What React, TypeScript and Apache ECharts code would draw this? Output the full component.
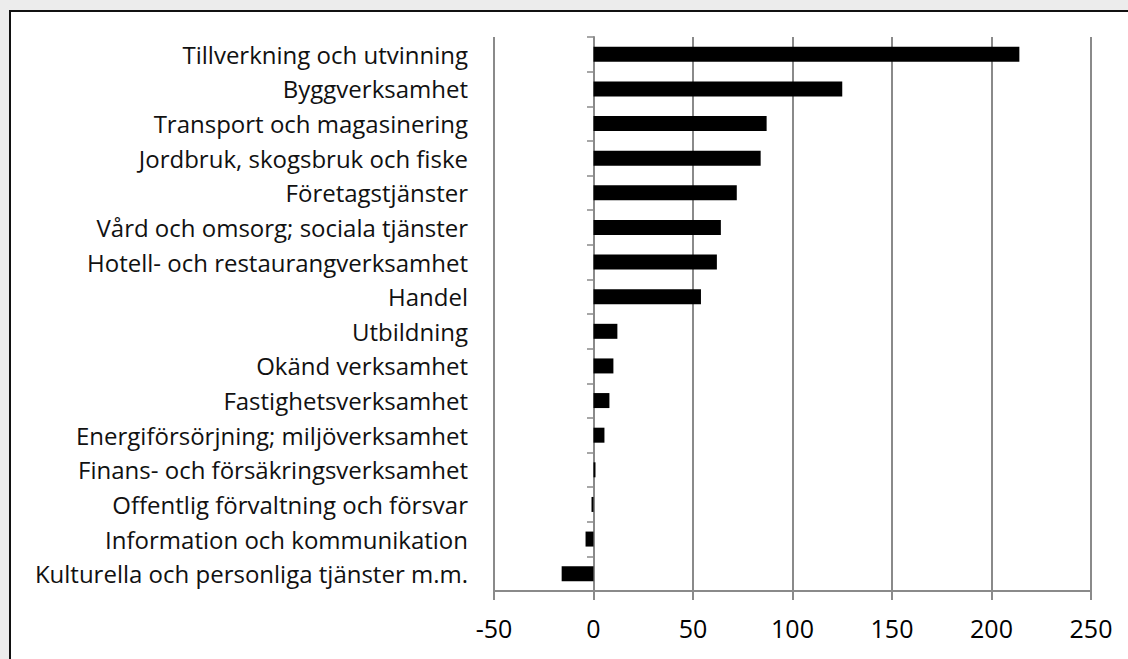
import React, { useEffect, useRef } from "react";
import * as echarts from "echarts";

const categories = [
  "Tillverkning och utvinning",
  "Byggverksamhet",
  "Transport och magasinering",
  "Jordbruk, skogsbruk och fiske",
  "Företagstjänster",
  "Vård och omsorg; sociala tjänster",
  "Hotell- och restaurangverksamhet",
  "Handel",
  "Utbildning",
  "Okänd verksamhet",
  "Fastighetsverksamhet",
  "Energiförsörjning; miljöverksamhet",
  "Finans- och försäkringsverksamhet",
  "Offentlig förvaltning och försvar",
  "Information och kommunikation",
  "Kulturella och personliga tjänster m.m.",
];

const values = [214, 125, 87, 84, 72, 64, 62, 54, 12, 10, 8, 5.5, 1, -1, -4, -16];

const xMin = -50;
const xMax = 250;
const xStep = 50;

const FONT = "'Open Sans', sans-serif";

export default function App() {
  const ref = useRef<HTMLDivElement>(null);
  useEffect(() => {
    document.body.style.margin = "0";
    const chart = echarts.init(ref.current!, null, { renderer: "svg" });
    chart.setOption({
      animation: false,
      grid: { left: 494, right: 37, top: 37, bottom: 68, containLabel: false },
      xAxis: {
        type: "value",
        min: xMin,
        max: xMax,
        interval: xStep,
        axisLine: { show: true, onZero: false, lineStyle: { color: "#8a8a8a", width: 2 } },
        axisTick: { show: true, length: 9, lineStyle: { color: "#8a8a8a", width: 2 } },
        splitLine: { show: true, lineStyle: { color: "#8a8a8a", width: 2 } },
        axisLabel: { color: "#000", fontSize: 25, fontFamily: FONT, margin: 24 },
      },
      yAxis: [
        {
          type: "category",
          data: categories,
          inverse: true,
          axisLine: { show: false },
          axisTick: { show: false },
          splitLine: { show: false },
          axisLabel: { color: "#111", fontSize: 24, fontFamily: FONT, margin: 26 },
        },
        {
          type: "category",
          data: categories,
          inverse: true,
          position: "left",
          offset: -100,
          axisLine: { show: true, onZero: false, lineStyle: { color: "#8a8a8a", width: 2 } },
          axisTick: { show: true, length: 7, lineStyle: { color: "#8a8a8a", width: 1.5 } },
          axisLabel: { show: false },
          splitLine: { show: false },
        },
      ],
      series: [
        {
          type: "bar",
          data: values,
          yAxisIndex: 0,
          barWidth: 15,
          itemStyle: { color: "#000" },
          z: 3,
        },
      ],
    });
    return () => chart.dispose();
  }, []);
  return (
    <div
      style={{
        position: "fixed",
        left: 0,
        top: 0,
        width: 1128,
        height: 659,
        background: "#ececec",
        overflow: "hidden",
      }}
    >
      <div
        style={{
          position: "absolute",
          left: 9,
          top: 10,
          width: 1140,
          height: 680,
          background: "#fff",
          border: "2px solid #111",
          boxSizing: "border-box",
        }}
      />
      <div ref={ref} style={{ position: "absolute", left: 0, top: 0, width: 1128, height: 659 }} />
    </div>
  );
}
